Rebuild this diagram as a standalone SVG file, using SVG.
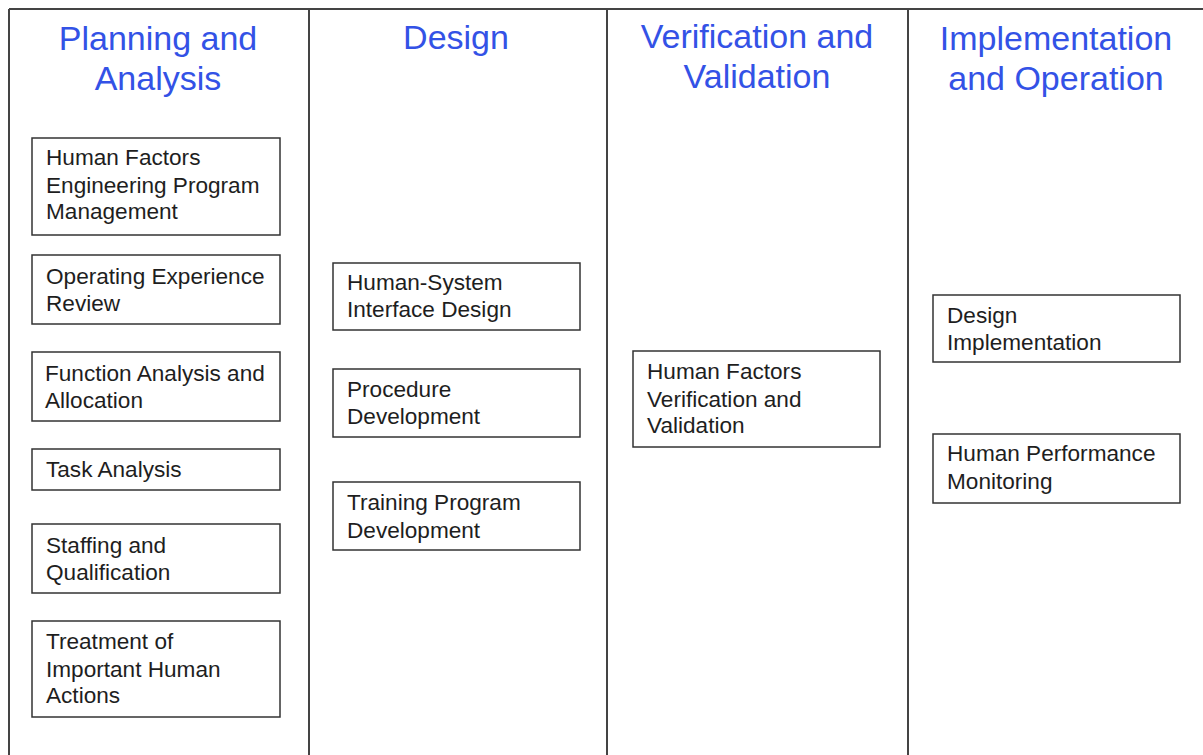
<svg xmlns="http://www.w3.org/2000/svg" width="1203" height="755" viewBox="0 0 1203 755">
<style>
.frame{stroke:#444;stroke-width:2;fill:none}
.box{fill:#fff;stroke:#333;stroke-width:1.5}
.t{font-family:"Liberation Sans",Arial,sans-serif;font-size:22.6px;fill:#1e1e1e}
.h{font-family:"Liberation Sans",Arial,sans-serif;font-size:34px;fill:#3352e6;text-anchor:middle}
</style>
<rect width="1203" height="755" fill="#fff"/>
<g id="frame">
<line class="frame" x1="9" y1="9" x2="1203" y2="9"/>
<line class="frame" x1="9" y1="9" x2="9" y2="755"/>
<line class="frame" x1="309" y1="9" x2="309" y2="755"/>
<line class="frame" x1="607" y1="9" x2="607" y2="755"/>
<line class="frame" x1="908" y1="9" x2="908" y2="755"/>
</g>
<g id="headers">
<text class="h" x="158" y="50">Planning and</text>
<text class="h" x="158" y="90">Analysis</text>
<text class="h" x="456" y="49">Design</text>
<text class="h" x="757" y="48">Verification and</text>
<text class="h" x="757" y="88">Validation</text>
<text class="h" x="1056" y="50">Implementation</text>
<text class="h" x="1056" y="90">and Operation</text>
</g>
<g id="hfe-program-management">
<rect class="box" x="32" y="138" width="248" height="97"/>
<text class="t" x="46" y="165">Human Factors</text>
<text class="t" x="46" y="193">Engineering Program</text>
<text class="t" x="46" y="219">Management</text>
</g>
<g id="operating-experience-review">
<rect class="box" x="32" y="255" width="248" height="69"/>
<text class="t" x="46" y="284">Operating Experience</text>
<text class="t" x="46" y="311">Review</text>
</g>
<g id="function-analysis">
<rect class="box" x="32" y="352" width="248" height="69"/>
<text class="t" x="45" y="381">Function Analysis and</text>
<text class="t" x="45" y="408">Allocation</text>
</g>
<g id="task-analysis">
<rect class="box" x="32" y="449" width="248" height="41"/>
<text class="t" x="46" y="477">Task Analysis</text>
</g>
<g id="staffing">
<rect class="box" x="32" y="524" width="248" height="69"/>
<text class="t" x="46" y="553">Staffing and</text>
<text class="t" x="46" y="580">Qualification</text>
</g>
<g id="treatment-iha">
<rect class="box" x="32" y="621" width="248" height="96"/>
<text class="t" x="46" y="649">Treatment of</text>
<text class="t" x="46" y="677">Important Human</text>
<text class="t" x="46" y="703">Actions</text>
</g>
<g id="hsi-design">
<rect class="box" x="333" y="263" width="247" height="67"/>
<text class="t" x="347" y="290">Human-System</text>
<text class="t" x="347" y="317">Interface Design</text>
</g>
<g id="procedure-development">
<rect class="box" x="333" y="369" width="247" height="68"/>
<text class="t" x="347" y="397">Procedure</text>
<text class="t" x="347" y="424">Development</text>
</g>
<g id="training-program">
<rect class="box" x="333" y="482" width="247" height="68"/>
<text class="t" x="347" y="510">Training Program</text>
<text class="t" x="347" y="538">Development</text>
</g>
<g id="hf-vv">
<rect class="box" x="633" y="351" width="247" height="96"/>
<text class="t" x="647" y="379">Human Factors</text>
<text class="t" x="647" y="407">Verification and</text>
<text class="t" x="647" y="433">Validation</text>
</g>
<g id="design-implementation">
<rect class="box" x="933" y="295" width="247" height="67"/>
<text class="t" x="947" y="323">Design</text>
<text class="t" x="947" y="350">Implementation</text>
</g>
<g id="hpm">
<rect class="box" x="933" y="434" width="247" height="69"/>
<text class="t" x="947" y="461">Human Performance</text>
<text class="t" x="947" y="489">Monitoring</text>
</g>
<g id="connectors"/>
</svg>
